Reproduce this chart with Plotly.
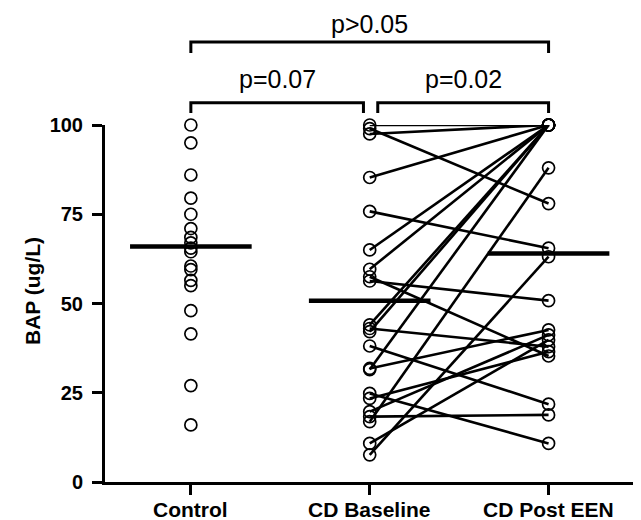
import plotly.graph_objects as go

# ---------------- data ----------------
categories = ["Control", "CD Baseline", "CD Post EEN"]
control_vals = [100, 95, 86, 79.5, 75, 71, 68.5, 67, 65.5, 64.5, 60.5, 59.5,
                56.5, 55, 48, 41.5, 27, 16]
# paired CD values (baseline[i] -> post[i])
baseline_vals = [100, 99, 97.5, 85.3, 75.8, 65, 59.6, 57.5, 56.3, 44, 43, 42.1,
                 38.1, 31.8, 31.5, 24.8, 23.4, 19.7, 18.3, 16.9, 10.8, 7.6]
post_vals = [100, 78, 100, 100, 65.5, 100, 100, 35.3, 50.8, 100, 37.9, 100,
             21.8, 42.6, 100, 10.8, 36.5, 41.2, 18.8, 88, 39.8, 63.1]
group_lines = [66, 50.8, 64]          # horizontal summary bars
y_ticks = [0, 25, 50, 75, 100]
p_labels = ["p=0.07", "p=0.02", "p>0.05"]

# ---------------- layout constants ----------------
XMIN, XMAX = -0.48, 2.5
FONT = "Liberation Sans, Arial, Helvetica, sans-serif"
OFF = 8                      # default page margin around the plot div
W, H = 641 - OFF, 520 - OFF
PL, PR, PT, PB = 105, 638, 125, 482   # plot area in page pixels
ML, MR, MT, MB = PL - OFF, W - (PR - OFF), PT - OFF, H - (PB - OFF)
PW, PH = PR - PL, PB - PT


def xp(v):
    return (v - XMIN) / (XMAX - XMIN)


def yp(px):  # page pixel row -> paper y
    return (PB - px) / PH


fig = go.Figure()

# paired lines
lx, ly = [], []
for b, p in zip(baseline_vals, post_vals):
    lx += [1, 2, None]
    ly += [b, p, None]
fig.add_trace(go.Scatter(x=lx, y=ly, mode="lines",
                         line=dict(color="black", width=2.6),
                         cliponaxis=False, hoverinfo="skip", showlegend=False))

marker = dict(symbol="circle-open", size=12, color="black", line=dict(width=1.7))
fig.add_trace(go.Scatter(x=[0] * len(control_vals), y=control_vals, mode="markers",
                         marker=marker, cliponaxis=False, showlegend=False))
fig.add_trace(go.Scatter(x=[1] * len(baseline_vals), y=baseline_vals, mode="markers",
                         marker=marker, cliponaxis=False, showlegend=False))
fig.add_trace(go.Scatter(x=[2] * len(post_vals), y=post_vals, mode="markers",
                         marker=marker, cliponaxis=False, showlegend=False))

shapes = []
for i, v in enumerate(group_lines):
    shapes.append(dict(type="line", xref="x", yref="y", x0=i - 0.34, x1=i + 0.34,
                       y0=v, y1=v, line=dict(color="black", width=4.5)))

# significance brackets
brackets = [(0, 0.965, 102.7, 113), (1.045, 2.0, 102.7, 113), (0, 2.0, 42, 53)]
for x0, x1, yt, yb in brackets:
    path = "M {a},{b} L {a},{c} L {d},{c} L {d},{b}".format(
        a=xp(x0), b=yp(yb), c=yp(yt), d=xp(x1))
    shapes.append(dict(type="path", xref="paper", yref="paper", path=path,
                       line=dict(color="black", width=3)))

annotations = []
label_y = [79, 79, 24]
for (x0, x1, yt, yb), lab, ly_ in zip(brackets, p_labels, label_y):
    annotations.append(dict(x=xp((x0 + x1) / 2), y=yp(ly_), xref="paper", yref="paper",
                            text=lab, showarrow=False, xanchor="center", yanchor="middle",
                            font=dict(family=FONT, size=25, color="black")))
# y-axis title
annotations.append(dict(x=(32 - PL) / PW, y=yp(291), xref="paper", yref="paper",
                        text="BAP (ug/L)", textangle=-90, showarrow=False,
                        xanchor="center", yanchor="middle",
                        font=dict(family=FONT, size=21, color="black", weight="bold")))
# category labels
for i, c in enumerate(categories):
    annotations.append(dict(x=i, y=yp(509), xref="x", yref="paper", text=c,
                            showarrow=False, xanchor="center", yanchor="middle",
                            font=dict(family=FONT, size=21, color="black", weight="bold")))

fig.update_layout(
    width=W, height=H,
    margin=dict(l=ML, r=MR, t=MT, b=MB),
    paper_bgcolor="white", plot_bgcolor="white",
    shapes=shapes, annotations=annotations,
    showlegend=False,
)
fig.update_xaxes(range=[XMIN, XMAX], tickvals=[0, 1, 2], showticklabels=False,
                 showgrid=False, zeroline=False, showline=True, linecolor="black",
                 linewidth=3, ticks="outside", ticklen=10, tickwidth=3, tickcolor="black")
fig.update_yaxes(range=[0, 100], tickvals=y_ticks,
                 showgrid=False, zeroline=False, showline=True, linecolor="black",
                 linewidth=3, ticks="outside", ticklen=10, tickwidth=3, tickcolor="black",
                 ticklabelstandoff=5,
                 tickfont=dict(family=FONT, size=20, color="black", weight="bold"))

fig.write_html("out.html")
